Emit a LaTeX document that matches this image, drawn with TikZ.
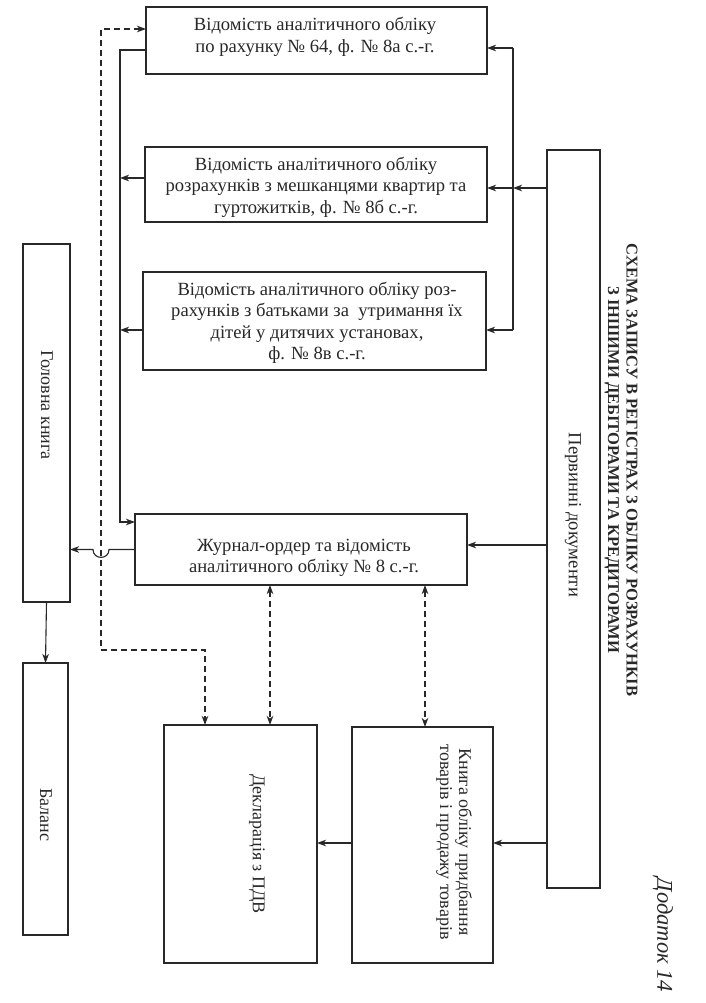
\documentclass[tikz,border=0pt]{standalone}
\usepackage{fontspec}
\setmainfont{Liberation Serif}
\usetikzlibrary{arrows.meta}
\definecolor{ink}{RGB}{40,40,40}
\begin{document}
\begin{tikzpicture}[x=1pt,y=-1pt,
  box/.style={draw=ink,line width=2.4pt,inner sep=0pt,outer sep=0pt,fill=white},
  txt/.style={font=\fontsize{18.6}{21.5}\selectfont,align=center,inner sep=0pt,text=ink},
  rtxt/.style={txt,rotate=-90,font=\fontsize{18}{19}\selectfont},
  con/.style={draw=ink,line width=1.1pt},
  tip/.tip={Stealth[length=9pt,width=6.5pt,inset=2.5pt]},
  arr/.style={con,-tip},
  dsh/.style={con,dash pattern=on 6pt off 4pt},
  ddarr/.style={dsh,tip-tip}]
\fill[white] (0,0) rectangle (706,1003);
\useasboundingbox (0,0) rectangle (706,1003);

% boxes
\node[box,minimum width=341pt,minimum height=67pt] (b1) at (316.5,40.5) {};
\node[box,minimum width=342pt,minimum height=75pt] (b2) at (316,184.5) {};
\node[box,minimum width=343pt,minimum height=98pt] (b3) at (314.5,321) {};
\node[box,minimum width=332pt,minimum height=71pt] (jr) at (301,549.5) {};
\node[box,minimum width=47pt,minimum height=358pt] (gk) at (46.5,423) {};
\node[box,minimum width=45pt,minimum height=272pt] (bal) at (45.5,799) {};
\node[box,minimum width=53pt,minimum height=738pt] (pd) at (573.5,519) {};
\node[box,minimum width=141pt,minimum height=236pt] (kn) at (422.5,845) {};
\node[box,minimum width=153pt,minimum height=238pt] (dk) at (240.5,844) {};

% texts
\node[txt] (t1) at (315,37) {Відомість аналітичного обліку\\по рахунку № 64, ф. № 8а с.-г.};
\node[txt] (t2) at (316,187) {Відомість аналітичного обліку\\розрахунків з мешканцями квартир та\\гуртожитків, ф. № 8б с.-г.};
\node[txt] (t3) at (317,323) {Відомість аналітичного обліку роз-\\рахунків з батьками за\ \ утримання їх\\дітей у дитячих установах,\\ф. № 8в с.-г.};
\node[txt] (tj) at (304,558) {Журнал-ордер та відомість\\аналітичного обліку № 8 с.-г.};
\node[rtxt] (tg) at (47,405) {Головна книга};
\node[rtxt] (tb) at (46,815) {Баланс};
\node[rtxt,font=\fontsize{18.6}{20}\selectfont] (tp) at (573,515) {Первинні документи};
\node[rtxt,font=\fontsize{16.5}{18.5}\selectfont\bfseries] (title) at (621,470) {СХЕМА ЗАПИСУ В РЕГІСТРАХ З ОБЛІКУ РОЗРАХУНКІВ\\З ІНШИМИ ДЕБІТОРАМИ ТА КРЕДИТОРАМИ};
\node[rtxt] (tk) at (454,842) {Книга обліку придбання\\товарів і продажу товарів};
\node[rtxt] (td) at (257,844) {Декларація з ПДВ};
\node[rtxt,font=\fontsize{22.5}{24}\selectfont\itshape] (tdod) at (663,935) {Додаток 14};

% right bus
\coordinate (r1) at (513,48);
\coordinate (r2) at (513,188);
\coordinate (r3) at (513,330);
\draw[arr] (pd.west |- r2) -- (r2);
\draw[con] (r1) -- (r3);
\draw[arr] (r1) -- (b1.east |- r1);
\draw[arr] (r2) -- (b2.east |- r2);
\draw[arr] (r3) -- (b3.east |- r3);

% left bus
\coordinate (l1) at (120,50);
\coordinate (l2) at (120,178);
\coordinate (l3) at (120,330);
\coordinate (l4) at (120,522);
\draw[arr] (b1.west |- l1) -- (l1) -- (l4) -- (jr.west |- l4);
\draw[arr] (b2.west |- l2) -- (l2);
\draw[arr] (b3.west |- l3) -- (l3);

% dashed link box1 -- declaration
\coordinate (d1) at (101,29);
\coordinate (d2) at (101,650);
\coordinate (d3) at (205,650);
\draw[ddarr] (b1.west |- d1) -- (d1) -- (d2) -- (d3) -- (d3 |- dk.north);

% journal -> general ledger with hop
\coordinate (hr) at (109,549.5);
\coordinate (hl) at (93,549.5);
\draw[arr] (jr.west) -- (hr) .. controls (109,560) and (93,560) .. (hl) -- (gk.east |- hl);

% ledger -> balance
\draw[arr] (gk.south) -- (bal.north);

% primary docs -> journal, book
\coordinate (p4) at (547,545);
\coordinate (p5) at (547,843);
\draw[arr] (pd.west |- p4) -- (jr.east |- p4);
\draw[arr] (pd.west |- p5) -- (kn.east |- p5);
\draw[arr] (kn.west |- p5) -- (dk.east |- p5);

% journal <-> declaration, book
\coordinate (xa) at (270,0);
\coordinate (xb) at (425,0);
\draw[ddarr] (jr.south -| xa) -- (dk.north -| xa);
\draw[ddarr] (jr.south -| xb) -- (kn.north -| xb);
\end{tikzpicture}
\end{document}
